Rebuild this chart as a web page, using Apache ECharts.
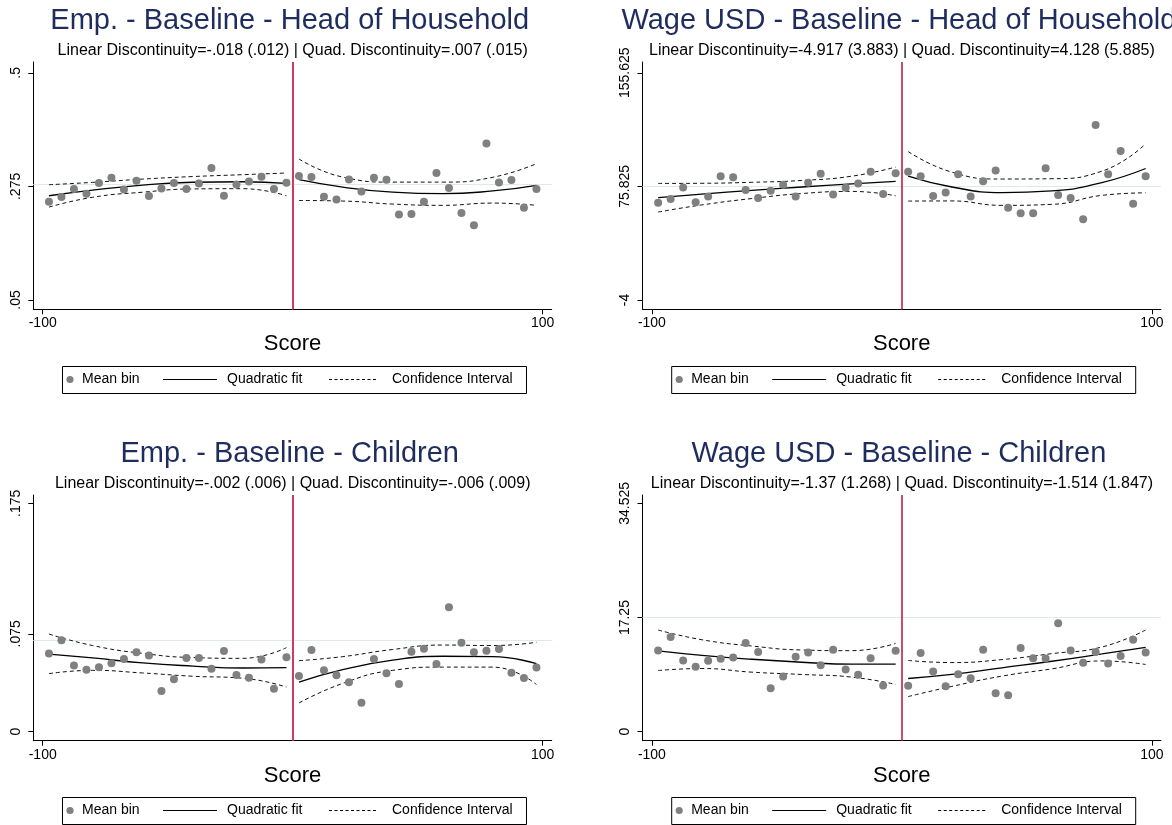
<!DOCTYPE html>
<html>
<head>
<meta charset="utf-8">
<script src="https://cdn.jsdelivr.net/npm/echarts@6/dist/echarts.min.js"></script>
<style>
  html, body { margin: 0; padding: 0; background: #ffffff; }
  #chart { width: 1172px; height: 825px; }
</style>
</head>
<body>
<div id="chart"></div>
<script>
// ---- Bin centres of the running variable (score) ----
const binLeft  = [-97.5, -92.5, -87.5, -82.5, -77.5, -72.5, -67.5, -62.5, -57.5, -52.5,
                  -47.5, -42.5, -37.5, -32.5, -27.5, -22.5, -17.5, -12.5, -7.5, -2.5];
const binRight = [2.5, 7.5, 12.5, 17.5, 22.5, 27.5, 32.5, 37.5, 42.5, 47.5,
                  52.5, 57.5, 62.5, 67.5, 72.5, 77.5, 82.5, 87.5, 92.5, 97.5];

// Scores at which the fitted curves and their bands are given
const curveLeft  = [-97.5, -80, -60, -40, -20, -2.5];
const curveRight = [2.5, 20, 40, 60, 80, 97.5];

// Shared x ticks
const xTicks = [-100, 100];
const xTickLabels = ['-100', '100'];

// ---- Emp. - Baseline - Head of Household ----
const empHeadTicks = [0.05, 0.275, 0.5];
const empHeadTickLabels = ['.05', '.275', '.5'];
const empHeadMeanLeft  = [0.2447, 0.2539, 0.2697, 0.2605, 0.2816, 0.2921, 0.2690, 0.2862, 0.2559, 0.2710,
                          0.2816, 0.2697, 0.2809, 0.3112, 0.2566, 0.2789, 0.2849, 0.2941, 0.2697, 0.2822];
const empHeadMeanRight = [0.2954, 0.2934, 0.2546, 0.2493, 0.2888, 0.2651, 0.2921, 0.2882, 0.2191, 0.2204,
                          0.2447, 0.3013, 0.2717, 0.2224, 0.1980, 0.3599, 0.2829, 0.2875, 0.2329, 0.2697];
const empHeadFitLeft   = [0.2565, 0.2675, 0.2775, 0.2832, 0.2842, 0.2809];
const empHeadUpLeft    = [0.2783, 0.2830, 0.2895, 0.2945, 0.2982, 0.3015];
const empHeadLoLeft    = [0.2340, 0.2535, 0.2635, 0.2700, 0.2705, 0.2565];
const empHeadFitRight  = [0.2882, 0.2735, 0.2635, 0.2605, 0.2660, 0.2772];
const empHeadUpRight   = [0.3293, 0.2935, 0.2835, 0.2835, 0.2930, 0.3200];
const empHeadLoRight   = [0.2471, 0.2460, 0.2400, 0.2375, 0.2420, 0.2375];

// ---- Wage USD - Baseline - Head of Household ----
const wageHeadTicks = [-4, 75.825, 155.625];
const wageHeadTickLabels = ['-4', '75.825', '155.625'];
const wageHeadMeanLeft  = [64.4, 66.9, 75.1, 64.6, 68.8, 83.0, 82.3, 73.2, 67.6, 72.8,
                           77.0, 68.8, 78.4, 84.7, 70.2, 74.9, 77.9, 86.1, 70.4, 85.1];
const wageHeadMeanRight = [86.1, 83.0, 69.0, 71.6, 84.4, 68.8, 79.5, 87.0, 60.9, 56.9,
                           56.9, 88.6, 69.7, 67.6, 52.7, 119.0, 84.4, 100.6, 63.7, 83.0];
const wageHeadFitLeft   = [67.9, 70.4, 73.0, 75.4, 77.6, 79.3];
const wageHeadUpLeft    = [77.9, 78.0, 78.7, 80.0, 83.0, 89.4];
const wageHeadLoLeft    = [57.8, 62.8, 67.3, 70.8, 72.3, 69.2];
const wageHeadFitRight  = [83.0, 75.4, 71.5, 72.6, 78.5, 88.4];
const wageHeadUpRight   = [100.3, 85.8, 81.0, 81.2, 86.5, 105.7];
const wageHeadLoRight   = [65.5, 65.6, 62.5, 63.2, 69.5, 71.3];

// ---- Emp. - Baseline - Children ----
const empChildTicks = [0, 0.075, 0.175];
const empChildTickLabels = ['0', '.075', '.175'];
const empChildMeanLeft  = [0.0600, 0.0700, 0.0508, 0.0475, 0.0493, 0.0524, 0.0557, 0.0608, 0.0583, 0.0312,
                           0.0401, 0.0565, 0.0565, 0.0483, 0.0618, 0.0434, 0.0414, 0.0554, 0.0330, 0.0570];
const empChildMeanRight = [0.0427, 0.0626, 0.0470, 0.0432, 0.0378, 0.0222, 0.0557, 0.0447, 0.0365, 0.0613,
                           0.0636, 0.0519, 0.0953, 0.0682, 0.0608, 0.0621, 0.0634, 0.0452, 0.0411, 0.0491];
const empChildFitLeft   = [0.0595, 0.0565, 0.0527, 0.0503, 0.0488, 0.0491];
const empChildUpLeft    = [0.0748, 0.0660, 0.0600, 0.0568, 0.0562, 0.0644];
const empChildLoLeft    = [0.0445, 0.0470, 0.0450, 0.0425, 0.0410, 0.0342];
const empChildFitRight  = [0.0380, 0.0475, 0.0548, 0.0578, 0.0575, 0.0522];
const empChildUpRight   = [0.0544, 0.0575, 0.0630, 0.0664, 0.0660, 0.0685];
const empChildLoRight   = [0.0220, 0.0370, 0.0470, 0.0495, 0.0495, 0.0362];

// ---- Wage USD - Baseline - Children ----
const wageChildTicks = [0, 17.25, 34.525];
const wageChildTickLabels = ['0', '17.25', '34.525'];
const wageChildMeanLeft  = [12.29, 14.31, 10.77, 9.81, 10.72, 11.02, 11.22, 13.40, 12.03, 6.57,
                            8.34, 11.32, 11.98, 10.06, 12.39, 9.40, 8.59, 11.12, 6.98, 12.23];
const wageChildMeanRight = [6.93, 11.88, 9.10, 6.88, 8.70, 8.09, 12.39, 5.81, 5.51, 12.64,
                            11.12, 11.07, 16.38, 12.29, 10.41, 12.03, 10.31, 11.43, 13.90, 11.98];
const wageChildFitLeft   = [12.23, 11.55, 10.95, 10.50, 10.20, 10.21];
const wageChildUpLeft    = [15.37, 13.90, 12.95, 12.35, 12.25, 13.35];
const wageChildLoLeft    = [9.25, 9.55, 9.00, 8.65, 8.25, 7.15];
const wageChildFitRight  = [8.04, 8.65, 9.65, 10.65, 11.75, 12.74];
const wageChildUpRight   = [10.77, 10.45, 10.90, 11.80, 12.80, 15.37];
const wageChildLoRight   = [5.31, 6.85, 8.40, 9.50, 10.70, 10.16];

// ---- Panel definitions ----
const panels = [
  { col: 0, row: 0,
    title: 'Emp. - Baseline - Head of Household',
    sub: 'Linear Discontinuity=-.018 (.012) | Quad. Discontinuity=.007 (.015)',
    ticks: empHeadTicks, tickLabels: empHeadTickLabels,
    meanL: empHeadMeanLeft, meanR: empHeadMeanRight,
    fitL: empHeadFitLeft, upL: empHeadUpLeft, loL: empHeadLoLeft,
    fitR: empHeadFitRight, upR: empHeadUpRight, loR: empHeadLoRight,
    cutColor: '#d03a60', cutWidth: 2 },
  { col: 1, row: 0,
    title: 'Wage USD - Baseline - Head of Household',
    sub: 'Linear Discontinuity=-4.917 (3.883) | Quad. Discontinuity=4.128 (5.885)',
    ticks: wageHeadTicks, tickLabels: wageHeadTickLabels,
    meanL: wageHeadMeanLeft, meanR: wageHeadMeanRight,
    fitL: wageHeadFitLeft, upL: wageHeadUpLeft, loL: wageHeadLoLeft,
    fitR: wageHeadFitRight, upR: wageHeadUpRight, loR: wageHeadLoRight,
    cutColor: '#be1034', cutWidth: 1.5 },
  { col: 0, row: 1,
    title: 'Emp. - Baseline - Children',
    sub: 'Linear Discontinuity=-.002 (.006) | Quad. Discontinuity=-.006 (.009)',
    ticks: empChildTicks, tickLabels: empChildTickLabels,
    meanL: empChildMeanLeft, meanR: empChildMeanRight,
    fitL: empChildFitLeft, upL: empChildUpLeft, loL: empChildLoLeft,
    fitR: empChildFitRight, upR: empChildUpRight, loR: empChildLoRight,
    cutColor: '#d03a60', cutWidth: 2 },
  { col: 1, row: 1,
    title: 'Wage USD - Baseline - Children',
    sub: 'Linear Discontinuity=-1.37 (1.268) | Quad. Discontinuity=-1.514 (1.847)',
    ticks: wageChildTicks, tickLabels: wageChildTickLabels,
    meanL: wageChildMeanLeft, meanR: wageChildMeanRight,
    fitL: wageChildFitLeft, upL: wageChildUpLeft, loL: wageChildLoLeft,
    fitR: wageChildFitRight, upR: wageChildUpRight, loR: wageChildLoRight,
    cutColor: '#be1034', cutWidth: 1.5 }
];

// ---- Layout (pixels) ----
const FONT = '"Liberation Sans", Arial, Helvetica, sans-serif';
const TITLE_COLOR = '#1f2d5e';
const colLeft = [33.3, 642.5];
const gridWidth = 518.4;
const rowTop = [62, 495];
const rowBottom = [309.3, 740.7];
const rowTickTop = [72.8, 503.3];     // pixel row of the highest y tick
const rowTickBottom = [300, 731.7];   // pixel row of the lowest y tick
const rowTitleY = [20.7, 453.5];
const rowSubY = [50.7, 483.3];
const rowLegendTop = [366, 797];
const xMin = -103.76, xMax = 103.6;

const zip = (xs, ys) => xs.map((x, i) => [x, ys[i]]);
const pickLabel = (vals, labels) => v => {
  let best = 0;
  for (let i = 1; i < vals.length; i++) {
    if (Math.abs(vals[i] - v) < Math.abs(vals[best] - v)) best = i;
  }
  return labels[best];
};

const grids = [], xAxes = [], yAxes = [], series = [], graphics = [];

panels.forEach((p, i) => {
  const left = colLeft[p.col];
  const top = rowTop[p.row];
  const height = rowBottom[p.row] - top;
  const lo = p.ticks[0], hi = p.ticks[p.ticks.length - 1];
  const perPx = (hi - lo) / (rowTickBottom[p.row] - rowTickTop[p.row]);
  const yMax = hi + (rowTickTop[p.row] - top) * perPx;
  const yMin = lo - (rowBottom[p.row] - rowTickBottom[p.row]) * perPx;
  const mid = p.ticks[1];
  const cx = left + (0 - xMin) / (xMax - xMin) * gridWidth;

  grids.push({ left: left, top: top, width: gridWidth, height: height, containLabel: false });

  xAxes.push({
    type: 'value', gridIndex: i, min: xMin, max: xMax,
    axisLine: { show: true, onZero: false, lineStyle: { color: '#000', width: 1 } },
    axisTick: { show: true, customValues: xTicks, length: 5, inside: false, lineStyle: { color: '#000', width: 1 } },
    axisLabel: { show: true, customValues: xTicks, formatter: pickLabel(xTicks, xTickLabels),
                 margin: 7, fontSize: 14, color: '#000', fontFamily: FONT },
    splitLine: { show: false },
    name: 'Score', nameLocation: 'middle', nameGap: 24,
    nameTextStyle: { fontSize: 22, color: '#000', fontFamily: FONT }
  });

  yAxes.push({
    type: 'value', gridIndex: i, min: yMin, max: yMax,
    axisLine: { show: true, onZero: false, lineStyle: { color: '#000', width: 1 } },
    axisTick: { show: true, customValues: p.ticks, length: 5, inside: false, lineStyle: { color: '#000', width: 1 } },
    axisLabel: { show: true, customValues: p.ticks, formatter: pickLabel(p.ticks, p.tickLabels),
                 rotate: 90, margin: 10, fontSize: 14, color: '#000', fontFamily: FONT },
    splitLine: { show: false }
  });

  // Mean per bin, with the cutoff line and the middle reference line
  series.push({
    type: 'scatter', name: 'Mean bin', xAxisIndex: i, yAxisIndex: i,
    data: zip(binLeft, p.meanL).concat(zip(binRight, p.meanR)),
    symbol: 'circle', symbolSize: 8,
    itemStyle: { color: '#808080', opacity: 1 },
    z: 4,
    markLine: {
      silent: true, symbol: ['none', 'none'], label: { show: false }, z: 1, animation: false,
      data: [
        { yAxis: mid, lineStyle: { color: '#dde9ea', width: 1, type: 'solid' } },
        { xAxis: 0, lineStyle: { color: p.cutColor, width: p.cutWidth, type: 'solid' } }
      ]
    }
  });

  const curve = (name, xs, ys, dashed) => ({
    type: 'line', name: name, xAxisIndex: i, yAxisIndex: i,
    data: zip(xs, ys), showSymbol: false, symbol: 'none',
    smooth: 0.5,
    lineStyle: dashed ? { color: '#111', width: 1, type: [4, 3] }
                      : { color: '#000', width: 1.3, type: 'solid' },
    z: 3
  });
  series.push(curve('Quadratic fit', curveLeft, p.fitL, false));
  series.push(curve('Quadratic fit', curveRight, p.fitR, false));
  series.push(curve('Confidence Interval', curveLeft, p.upL, true));
  series.push(curve('Confidence Interval', curveLeft, p.loL, true));
  series.push(curve('Confidence Interval', curveRight, p.upR, true));
  series.push(curve('Confidence Interval', curveRight, p.loR, true));

  // Titles
  graphics.push({
    type: 'text', x: cx - 3, y: rowTitleY[p.row], silent: true,
    style: { text: p.title, font: '29px ' + FONT, fill: TITLE_COLOR, align: 'center', verticalAlign: 'middle' }
  });
  graphics.push({
    type: 'text', x: cx, y: rowSubY[p.row], silent: true,
    style: { text: p.sub, font: '16px ' + FONT, fill: '#000', align: 'center', verticalAlign: 'middle' }
  });

  // Legend box under each panel
  const lx = left - 33.3;
  const ly = rowLegendTop[p.row];
  const cy = ly + 13.5;
  graphics.push({
    type: 'group', silent: true,
    children: [
      { type: 'rect', shape: { x: lx + 62.5, y: ly + 0.5, width: 464, height: 27 },
        style: { fill: '#fff', stroke: '#000', lineWidth: 1 } },
      { type: 'circle', shape: { cx: lx + 70, cy: cy, r: 3.6 }, style: { fill: '#808080' } },
      { type: 'text', x: lx + 82, y: cy,
        style: { text: 'Mean bin', font: '14px ' + FONT, fill: '#000', align: 'left', verticalAlign: 'middle' } },
      { type: 'line', shape: { x1: lx + 163, y1: cy, x2: lx + 217, y2: cy },
        style: { stroke: '#000', lineWidth: 1 } },
      { type: 'text', x: lx + 227, y: cy,
        style: { text: 'Quadratic fit', font: '14px ' + FONT, fill: '#000', align: 'left', verticalAlign: 'middle' } },
      { type: 'line', shape: { x1: lx + 329, y1: cy, x2: lx + 378, y2: cy },
        style: { stroke: '#000', lineWidth: 1, lineDash: [3, 2.5] } },
      { type: 'text', x: lx + 392, y: cy,
        style: { text: 'Confidence Interval', font: '14px ' + FONT, fill: '#000', align: 'left', verticalAlign: 'middle' } }
    ]
  });
});

const chart = echarts.init(document.getElementById('chart'), null, { renderer: 'canvas' });
chart.setOption({
  backgroundColor: '#ffffff',
  animation: false,
  grid: grids,
  xAxis: xAxes,
  yAxis: yAxes,
  series: series,
  graphic: graphics
});
</script>
</body>
</html>
